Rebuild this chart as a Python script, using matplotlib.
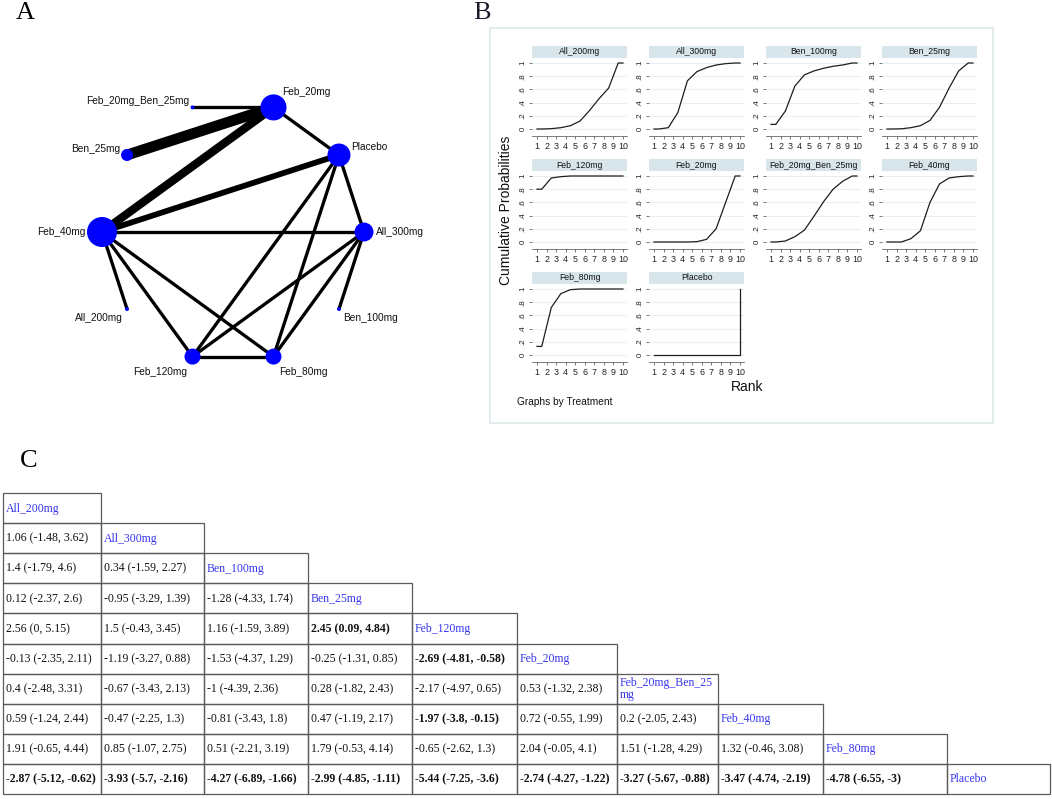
import numpy as np
import matplotlib
matplotlib.use("Agg")
import matplotlib.pyplot as plt
from matplotlib.patches import Rectangle

W, H = 1052, 799

# ---------------------------------------------------------------- data
treatments = ["All_200mg", "All_300mg", "Ben_100mg", "Ben_25mg", "Feb_120mg",
              "Feb_20mg", "Feb_20mg_Ben_25mg", "Feb_40mg", "Feb_80mg", "Placebo"]

# Panel A: network (circular order, counter-clockwise from the right)
network_order = ["All_300mg", "Placebo", "Feb_20mg", "Feb_20mg_Ben_25mg", "Ben_25mg",
                 "Feb_40mg", "All_200mg", "Feb_120mg", "Feb_80mg", "Ben_100mg"]
node_weight = {"All_300mg": 90, "Placebo": 132, "Feb_20mg": 170, "Feb_20mg_Ben_25mg": 4,
               "Ben_25mg": 36, "Feb_40mg": 225, "All_200mg": 4, "Feb_120mg": 64,
               "Feb_80mg": 64, "Ben_100mg": 4}
edges_a = ["Feb_20mg_Ben_25mg", "Ben_25mg", "Feb_40mg", "Feb_20mg", "Feb_40mg",
           "Feb_40mg", "Feb_40mg", "Feb_40mg", "Feb_40mg", "Placebo", "Placebo",
           "Placebo", "All_300mg", "All_300mg", "All_300mg", "Feb_120mg"]
edges_b = ["Feb_20mg", "Feb_20mg", "Feb_20mg", "Placebo", "Placebo",
           "All_300mg", "All_200mg", "Feb_120mg", "Feb_80mg", "Feb_120mg", "Feb_80mg",
           "All_300mg", "Feb_120mg", "Feb_80mg", "Ben_100mg", "Feb_80mg"]
edges_n = [1, 4, 3, 1, 2, 1, 1, 1, 1, 1, 1, 1, 1, 1, 1, 1]

# Panel B: cumulative ranking probabilities, ranks 1..10
ranks = np.arange(1, 11)
cumprob = {
    "All_200mg":         [0, 0.005, 0.02, 0.05, 0.12, 0.28, 0.46, 0.62, 1, 1],
    "All_300mg":         [0, 0.02, 0.25, 0.73, 0.87, 0.93, 0.97, 0.99, 1, 1],
    "Ben_100mg":         [0.07, 0.27, 0.65, 0.82, 0.88, 0.92, 0.95, 0.97, 1, 1],
    "Ben_25mg":          [0, 0.003, 0.02, 0.05, 0.13, 0.33, 0.62, 0.88, 1, 1],
    "Feb_120mg":         [0.8, 0.97, 0.99, 1, 1, 1, 1, 1, 1, 1],
    "Feb_20mg":          [0, 0, 0, 0, 0.005, 0.04, 0.2, 0.6, 1, 1],
    "Feb_20mg_Ben_25mg": [0, 0.015, 0.08, 0.18, 0.39, 0.61, 0.8, 0.92, 1, 1],
    "Feb_40mg":          [0, 0, 0.05, 0.17, 0.6, 0.88, 0.97, 0.99, 1, 1],
    "Feb_80mg":          [0.13, 0.72, 0.93, 0.99, 1, 1, 1, 1, 1, 1],
    "Placebo":           [0, 0, 0, 0, 0, 0, 0, 0, 0, 1],
}
ytick_vals = [0, 0.2, 0.4, 0.6, 0.8, 1]
ytick_labels = ["0", ".2", ".4", ".6", ".8", "1"]

# Panel C: league table (row treatment vs column treatment), lower triangle
league_est = [
    [1.06],
    [1.4, 0.34],
    [0.12, -0.95, -1.28],
    [2.56, 1.5, 1.16, 2.45],
    [-0.13, -1.19, -1.53, -0.25, -2.69],
    [0.4, -0.67, -1, 0.28, -2.17, 0.53],
    [0.59, -0.47, -0.81, 0.47, -1.97, 0.72, 0.2],
    [1.91, 0.85, 0.51, 1.79, -0.65, 2.04, 1.51, 1.32],
    [-2.87, -3.93, -4.27, -2.99, -5.44, -2.74, -3.27, -3.47, -4.78],
]
league_lo = [
    [-1.48],
    [-1.79, -1.59],
    [-2.37, -3.29, -4.33],
    [0, -0.43, -1.59, 0.09],
    [-2.35, -3.27, -4.37, -1.31, -4.81],
    [-2.48, -3.43, -4.39, -1.82, -4.97, -1.32],
    [-1.24, -2.25, -3.43, -1.19, -3.8, -0.55, -2.05],
    [-0.65, -1.07, -2.21, -0.53, -2.62, -0.05, -1.28, -0.46],
    [-5.12, -5.7, -6.89, -4.85, -7.25, -4.27, -5.67, -4.74, -6.55],
]
league_hi = [
    [3.62],
    [4.6, 2.27],
    [2.6, 1.39, 1.74],
    [5.15, 3.45, 3.89, 4.84],
    [2.11, 0.88, 1.29, 0.85, -0.58],
    [3.31, 2.13, 2.36, 2.43, 0.65, 2.38],
    [2.44, 1.3, 1.8, 2.17, -0.15, 1.99, 2.43],
    [4.44, 2.75, 3.19, 4.14, 1.3, 4.1, 4.29, 3.08],
    [-0.62, -2.16, -1.66, -1.11, -3.6, -1.22, -0.88, -2.19, -3],
]
diag_labels = {"Feb_20mg_Ben_25mg": "Feb_20mg_Ben_25\nmg"}

# ---------------------------------------------------------------- figure
SANS = ["Liberation Sans", "DejaVu Sans"]
SERIF = ["Liberation Serif", "DejaVu Serif"]
fig = plt.figure(figsize=(W / 100, H / 100), dpi=100)


def px_axes(x0, y0, x1, y1, **kw):
    return fig.add_axes([x0 / W, 1 - y1 / H, (x1 - x0) / W, (y1 - y0) / H], **kw)


# overlay axes in pixel coordinates for annotations/table
ov = fig.add_axes([0, 0, 1, 1])
ov.set_xlim(0, W)
ov.set_ylim(H, 0)
ov.axis("off")
ov.patch.set_visible(False)

# panel letters
ov.text(25, 13, "A", fontsize=19, family=SERIF, ha="center", va="center")
ov.text(482, 13, "B", fontsize=19, family=SERIF, ha="center", va="center", color="#1a1a2a")
ov.text(29, 461, "C", fontsize=19, family=SERIF, ha="center", va="center")

# ---------------------------------------------------------------- Panel A
cx, cy, R = 233, 232, 131
axA = px_axes(0, 0, 470, 400)
axA.set_xlim((0 - cx) / R, (470 - cx) / R)
axA.set_ylim((cy - 400) / R, (cy - 0) / R)
axA.axis("off")
axA.patch.set_visible(False)
angles = np.deg2rad(np.arange(len(network_order)) * 360 / len(network_order))
pos = {t: (np.cos(a), np.sin(a)) for t, a in zip(network_order, angles)}
for a, b, n in zip(edges_a, edges_b, edges_n):
    (x1, y1), (x2, y2) = pos[a], pos[b]
    axA.plot([x1, x2], [y1, y2], color="black", lw=(0.8 + 2.5 * n) * 0.72,
             solid_capstyle="butt", zorder=1)
xs = [pos[t][0] for t in network_order]
ys = [pos[t][1] for t in network_order]
ss = [node_weight[t] * (2 * 0.72) ** 2 for t in network_order]
axA.scatter(xs, ys, s=ss, color="#0000ff", edgecolors="none", zorder=3)

label_off = {  # pixel offsets (dx, dy down) and alignment
    "Feb_20mg": (9, -15, "left"), "Placebo": (12, -8, "left"),
    "All_300mg": (12, 0, "left"), "Ben_100mg": (4, 9, "left"),
    "Feb_80mg": (6, 15, "left"), "Feb_120mg": (-5, 15, "right"),
    "All_200mg": (-4, 9, "right"), "Feb_40mg": (-16, 0, "right"),
    "Ben_25mg": (-7, -6, "right"), "Feb_20mg_Ben_25mg": (-3, -6, "right"),
}
for t in network_order:
    dx, dy, ha = label_off[t]
    x, y = pos[t]
    axA.text(x + dx / R, y - dy / R, t, ha=ha, va="center", fontsize=7.3,
             family=SANS, color="#111111")

# ---------------------------------------------------------------- Panel B
ov.add_patch(Rectangle((490, 28), 503, 395, facecolor="white",
                       edgecolor="#dde9ec", lw=1.2, zorder=0))
col_left = [532, 649, 766, 882]
y_one = [63, 176, 289]
unit = 66
pw = 95
for k, t in enumerate(treatments):
    r, c = divmod(k, 4)
    x0 = col_left[c]
    top = y_one[r] - 5
    bot = y_one[r] + unit + 7
    ax = px_axes(x0, top, x0 + pw, bot)
    ax.set_xlim(0.48, 10.42)
    ax.set_ylim(-7 / unit, 1 + 5 / unit)
    p = np.asarray(cumprob[t])
    xs_b = np.r_[ranks[0], ranks[:-1] + 0.5, ranks[-1], ranks[-1]]
    ys_b = np.r_[p[0], p[:-1], p[-2], p[-1]]
    ax.plot(xs_b, ys_b, color="#1e1e1e", lw=0.9, solid_joinstyle="miter")
    ax.set_yticks(ytick_vals)
    ax.set_yticklabels(ytick_labels, rotation=90, va="center", fontsize=5.8,
                       family=SANS, color="#222222")
    ax.set_xticks(ranks)
    ax.set_xticklabels([str(v) for v in ranks], fontsize=6.4, family=SANS,
                       color="#222222")
    ax.tick_params(axis="y", length=2.5, width=0.5, pad=1.5, colors="#444444",
                   labelcolor="#222222")
    ax.tick_params(axis="x", length=2.5, width=0.5, pad=1.5, colors="#444444",
                   labelcolor="#222222")
    for s in ["top", "right", "left"]:
        ax.spines[s].set_visible(False)
    ax.spines["bottom"].set_color("#666666")
    ax.spines["bottom"].set_linewidth(0.6)
    ax.grid(axis="y", color="#e6eff1", lw=0.8)
    ax.set_axisbelow(True)
    # strip
    sx = px_axes(x0, top - 12, x0 + pw, top)
    sx.set_facecolor("#d8e5ea")
    sx.set_xticks([])
    sx.set_yticks([])
    for s in sx.spines.values():
        s.set_visible(False)
    sx.text(0.5, 0.5, t, ha="center", va="center", fontsize=6.2, family=SANS,
            color="#111111", transform=sx.transAxes)

ov.text(506, 210, "Cumulative Probabilities", rotation=90, ha="center",
        va="center", fontsize=10, family=SANS, color="#111111")
ov.text(747, 387, "Rank", ha="center", va="center", fontsize=10, family=SANS,
        color="#111111")
ov.text(517, 402, "Graphs by Treatment", ha="left", va="center", fontsize=7.3,
        family=SANS, color="#111111")

# ---------------------------------------------------------------- Panel C
col_edges = [3, 101, 204, 308, 412, 517, 617, 718, 823, 947, 1050]
row_top = 493
row_h = 30.1
n = len(treatments)
for i in range(n):
    y0 = row_top + i * row_h
    for j in range(i + 1):
        x0, x1 = col_edges[j], col_edges[j + 1]
        ov.add_patch(Rectangle((x0, y0), x1 - x0, row_h, facecolor="none",
                               edgecolor="#5a5a5a", lw=0.9, zorder=2))
        if j == i:
            lab = diag_labels.get(treatments[i], treatments[i])
            ov.text(x0 + 3, y0 + row_h / 2 + 0.5, lab, ha="left", va="center",
                    fontsize=8.5, family=SERIF, color="#3535ee", linespacing=1.05)
        else:
            e = league_est[i - 1][j]
            lo = league_lo[i - 1][j]
            hi = league_hi[i - 1][j]
            sig = lo > 0 or hi < 0
            ov.text(x0 + 3, y0 + row_h / 2 + 0.5, f"{e:g} ({lo:g}, {hi:g})",
                    ha="left", va="center", fontsize=8.5, family=SERIF,
                    color="#111111", weight="bold" if sig else "normal")

fig.savefig("out.png", dpi=100, facecolor="white")
